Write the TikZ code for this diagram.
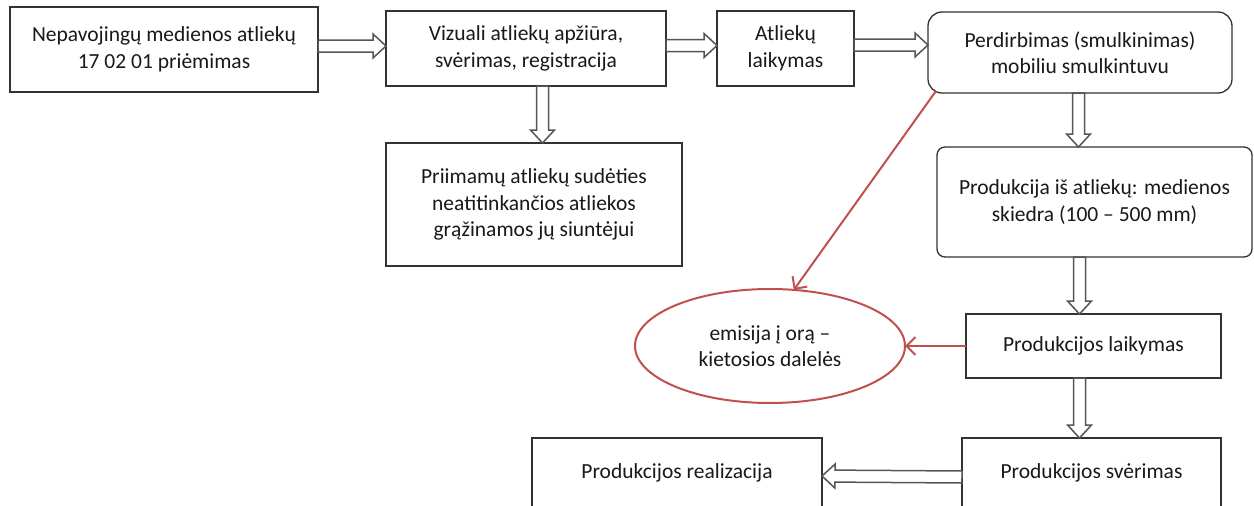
\documentclass[tikz,border=0pt]{standalone}
\usepackage{fontspec}
\setmainfont{Carlito}
\usetikzlibrary{calc,shapes.geometric,arrows.meta}
\definecolor{emred}{RGB}{192,80,77}
\definecolor{boxline}{RGB}{50,50,50}
\definecolor{arrline}{RGB}{85,85,85}
\tikzset{
  box/.style={draw=boxline, line width=1.3pt, fill=white, align=center,
    inner sep=0pt, outer sep=0pt, text=black!90, font=\fontsize{21.5}{26.5}\selectfont},
  rbox/.style={box, rounded corners=14pt},
  emoval/.style={box, draw=emred, line width=2pt, ellipse},
  blockarrow/.style={draw=arrline, line width=1.5pt, fill=white, to path={
    let \p1=(\tikztostart), \p2=(\tikztotarget), \n1={atan2(\y2-\y1,\x2-\x1)} in
    ($(\p1)+(\n1+90:6pt)$) -- ($(\p2)+(\n1+180:13pt)+(\n1+90:6pt)$)
    -- ($(\p2)+(\n1+180:13pt)+(\n1+90:12pt)$) -- (\p2)
    -- ($(\p2)+(\n1+180:13pt)+(\n1-90:12pt)$) -- ($(\p2)+(\n1+180:13pt)+(\n1-90:6pt)$)
    -- ($(\p1)+(\n1-90:6pt)$) -- cycle}},
  emarrow/.style={draw=emred, line width=2pt, -{Straight Barb[length=9pt,width=18pt]}}
}
\begin{document}
\begin{tikzpicture}[x=1pt, y=-1pt]
    \clip (0,0) rectangle (1254,506);
    \useasboundingbox (0,0) rectangle (1254,506);

    % pirma eilute
    \node[box, minimum width=308, minimum height=85] (priemimas) at (164,49.5)
        {Nepavojingų medienos atliekų\\17 02 01 priėmimas};
    \node[box, minimum width=280, minimum height=75] (apziura) at (526,48.5)
        {Vizuali atliekų apžiūra,\\svėrimas, registracija};
    \node[box, minimum width=137, minimum height=75] (laikymas) at (785.5,48.5)
        {Atliekų\\laikymas};
    \node[rbox, minimum width=304, minimum height=81] (perdirbimas) at (1080,52.5)
        {Perdirbimas (smulkinimas)\\mobiliu smulkintuvu};

    % grazinimas ir produkcija
    \node[box, minimum width=296, minimum height=123] (grazinimas) at (534,204.5)
        {Priimamų atliekų sudėties\\neatitinkančios atliekos\\grąžinamos jų siuntėjui};
    \node[box, rounded corners=8pt, minimum width=315, minimum height=110] (skiedra) at (1094.5,202)
        {Produkcija iš atliekų: medienos\\skiedra (100 – 500 mm)};
    \node[box, minimum width=255, minimum height=64] (prodlaikymas) at (1093.5,346)
        {Produkcijos laikymas};
    \node[emoval, minimum width=270, minimum height=114] (emisija) at (770,346)
        {emisija į orą –\\kietosios dalelės};
    \node[box, minimum width=259, minimum height=70] (sverimas) at (1091.5,473)
        {Produkcijos svėrimas};
    \node[box, minimum width=290, minimum height=70] (realizacija) at (677,473)
        {Produkcijos realizacija};

    % rodykles
    \draw[blockarrow] ([yshift=3.5pt]priemimas.east) to ([yshift=2.5pt]apziura.west);
    \draw[blockarrow] ([yshift=3pt]apziura.east) to ([yshift=3pt]laikymas.west);
    \draw[blockarrow] ([yshift=3.5pt]laikymas.east) to ([yshift=7.5pt]perdirbimas.west);
    \draw[blockarrow] ([xshift=16.5pt]apziura.south) to ([xshift=8.5pt]grazinimas.north);
    \draw[blockarrow] ([xshift=-1.5pt]perdirbimas.south) to ([xshift=-16pt]skiedra.north);
    \draw[blockarrow] ([xshift=-15pt]skiedra.south) to ([xshift=-14pt]prodlaikymas.north);
    \draw[blockarrow] ([xshift=-14pt]prodlaikymas.south) to ([xshift=-12pt]sverimas.north);
    \draw[blockarrow] ([yshift=-4pt]sverimas.west) to ([yshift=-3pt]realizacija.east);

    % emisija
    \draw[emarrow] ([xshift=8pt,yshift=2pt]perdirbimas.south west) -- (emisija.67);
    \draw[emarrow] (prodlaikymas.west) -- (emisija.east);
\end{tikzpicture}
\end{document}
